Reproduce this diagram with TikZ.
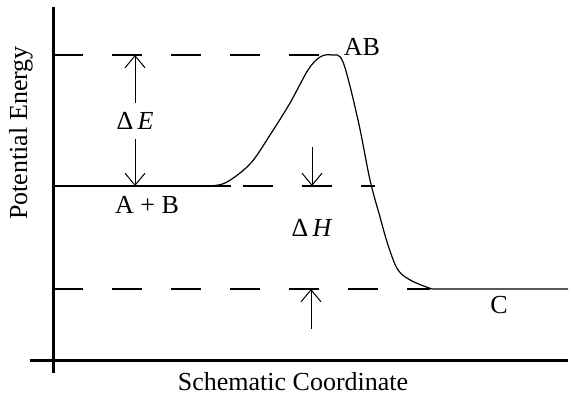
\documentclass[tikz,border=0pt]{standalone}
\usepackage{fontspec}
\setmainfont{Liberation Serif}
\usetikzlibrary{arrows.meta}

\tikzset{
  level/.style={line width=0.7pt, dash pattern=on 15pt off 14.5pt},
  barb/.style={-{Straight Barb[length=6pt,width=10pt]}, line width=0.5pt},
  axis/.style={line width=1.5pt},
}

\begin{document}
\begin{tikzpicture}[x=0.5pt,y=-0.5pt,font=\fontsize{13pt}{15pt}\selectfont]
        \useasboundingbox (0,0) rectangle (571,395);

        % Axes
        \coordinate (yTop) at (53,7);
        \coordinate (yBot) at (53,373);
        \coordinate (xLeft) at (30,360);
        \coordinate (xRight) at (568,360);
        \draw[axis] (yTop) -- (yBot);
        \draw[axis] (xLeft) -- (xRight);
        \node[rotate=90] (ylab) at (21,133) {Potential Energy};
        \node (xlab) at (293,382) {Schematic Coordinate};

        % Levels
        \coordinate (ts0) at (53,55);
        \coordinate (ts1) at (327,55);
        \coordinate (re0) at (53,186);
        \coordinate (re1) at (231,186);
        \coordinate (re2) at (243,186);
        \coordinate (re3) at (375,186);
        \coordinate (pr0) at (53,289);
        \coordinate (pr1) at (430,289);
        \coordinate (pr2) at (568,289);
        \draw[level] (ts0) -- (ts1);
        \draw[line width=0.7pt] (re0) -- (re1);
        \draw[level] (re2) -- (re3);
        \draw[level] (pr0) -- (pr1);

        % Reaction path
        \draw[line width=0.6pt] plot[smooth, tension=0.55] coordinates {
            (205,186) (225,183) (250,164) (270,135) (290,103) (308,70)
            (320,57) (332,55) (343,62) (358,120) (370,180) (380,217)
            (388,245) (398,270) (412,281) (432,289)} -- (pr2);

        % Labels
        \node (reac) at (147,205) {A + B};
        \node (ts) at (362,47) {AB};
        \node (prod) at (499,305) {C};

        % Delta E
        \node[inner sep=4.5pt] (dE) at (135,121) {Δ\,\textit{E}};
        \coordinate (eTop) at (135,55);
        \coordinate (eBot) at (135,186);
        \draw[barb] (dE) -- (eTop);
        \draw[barb] (dE) -- (eBot);

        % Delta H
        \node (dH) at (312,228) {Δ\,\textit{H}};
        \coordinate (h1) at (312,147);
        \coordinate (h2) at (312,186);
        \coordinate (h3) at (311,329);
        \coordinate (h4) at (311,289);
        \draw[barb] (h1) -- (h2);
        \draw[barb] (h3) -- (h4);

\end{tikzpicture}
\end{document}
